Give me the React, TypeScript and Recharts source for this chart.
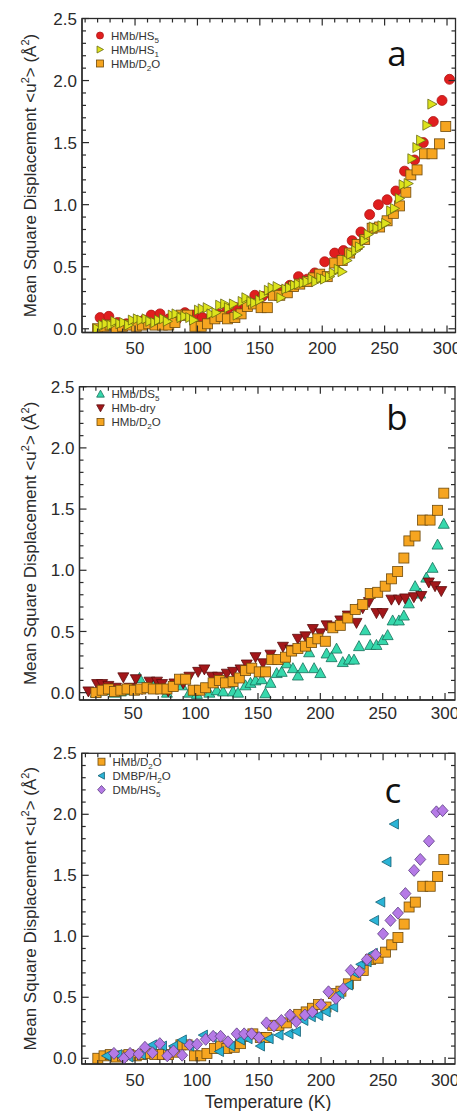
import React from 'react';
import { ScatterChart, Scatter, XAxis, YAxis } from 'recharts';

type Pt = [number, number];

// ---------- data (Temperature K, <u^2> Å^2) ----------
const hmbHS5: Pt[] = [
  [22, 0.09], [29, 0.1], [36, 0.05], [43, 0.04], [50, 0.05], [57, 0.07], [63, 0.11], [70, 0.12], [77, 0.08],
  [83, 0.07], [90, 0.13], [97, 0.11], [104, 0.09], [111, 0.1], [117, 0.12], [124, 0.16], [131, 0.17], [138, 0.19],
  [146, 0.27], [152, 0.26], [159, 0.28], [166, 0.31], [174, 0.35], [181, 0.42], [188, 0.4], [194, 0.45], [202, 0.54],
  [210, 0.61], [217, 0.63], [224, 0.71], [231, 0.78], [238, 0.92], [245, 1.0], [252, 1.04], [259, 1.11], [266, 1.27],
  [274, 1.36], [281, 1.5], [289, 1.67], [296, 1.84], [302, 2.01],
];

const hmbHS1: Pt[] = [
  [20, 0.0], [24, 0.03], [27, 0.04], [31, 0.03], [34, 0.06], [38, 0.04], [41, 0.05], [45, 0.03], [48, 0.07], [52, 0.08],
  [55, 0.07], [59, 0.08], [62, 0.06], [66, 0.05], [69, 0.07], [73, 0.08], [76, 0.06], [80, 0.11], [83, 0.12], [87, 0.09],
  [90, 0.1], [94, 0.09], [97, 0.07], [101, 0.15], [104, 0.16], [108, 0.17], [111, 0.12], [115, 0.13], [118, 0.19],
  [122, 0.2], [125, 0.17], [129, 0.2], [132, 0.11], [136, 0.22], [139, 0.25], [143, 0.22], [146, 0.21], [150, 0.23],
  [153, 0.27], [157, 0.31], [160, 0.33], [164, 0.34], [167, 0.25], [171, 0.32], [174, 0.33], [178, 0.35], [181, 0.36],
  [185, 0.37], [188, 0.38], [192, 0.4], [195, 0.38], [199, 0.41], [202, 0.4], [206, 0.42], [209, 0.45], [213, 0.48],
  [216, 0.46], [220, 0.55], [223, 0.6], [227, 0.63], [230, 0.66], [234, 0.71], [237, 0.76], [241, 0.82], [244, 0.81],
  [248, 0.83], [251, 0.85], [255, 0.95], [258, 0.97], [262, 1.05], [265, 1.16], [269, 1.17], [272, 1.37], [276, 1.46],
  [279, 1.52], [284, 1.64], [288, 1.81],
];

const hmbD2O: Pt[] = [
  [20, 0.0], [25, 0.02], [30, 0.03], [35, 0.01], [40, 0.02], [45, 0.03], [51, 0.02], [56, 0.03], [61, 0.04], [66, 0.03],
  [72, 0.03], [77, 0.03], [82, 0.05], [87, 0.11], [92, 0.11], [98, 0.02], [103, 0.02], [108, 0.04], [114, 0.08],
  [119, 0.1], [124, 0.08], [130, 0.09], [135, 0.12], [140, 0.18], [145, 0.2], [151, 0.17], [156, 0.17], [161, 0.27],
  [166, 0.27], [172, 0.29], [177, 0.34], [182, 0.36], [188, 0.38], [193, 0.41], [198, 0.44], [204, 0.42], [210, 0.53],
  [216, 0.55], [222, 0.61], [228, 0.68], [234, 0.72], [240, 0.81], [246, 0.82], [252, 0.87], [257, 0.93], [262, 0.99],
  [267, 1.1], [271, 1.24], [276, 1.28], [282, 1.41], [288, 1.41], [294, 1.49], [299, 1.63],
];

const hmbDS5: Pt[] = [
  [20, 0.0], [25, 0.02], [30, 0.02], [35, 0.0], [40, 0.01], [46, 0.02], [50, 0.03], [55, 0.12], [60, 0.04], [66, 0.06],
  [70, 0.04], [77, 0.0], [82, 0.06], [89, 0.06], [95, 0.0], [101, -0.01], [106, 0.035], [111, 0.0], [117, 0.02],
  [122, 0.01], [127, 0.08], [130, 0.01], [134, 0.0], [140, 0.06], [144, 0.08], [148, 0.1], [153, 0.11], [156, -0.005],
  [160, 0.08], [165, 0.16], [169, 0.17], [173, 0.24], [178, 0.2], [182, 0.14], [186, 0.2], [191, 0.33], [195, 0.2],
  [200, 0.16], [205, 0.32], [209, 0.29], [213, 0.36], [218, 0.25], [223, 0.27], [227, 0.27], [231, 0.38], [236, 0.51],
  [240, 0.39], [245, 0.39], [250, 0.43], [254, 0.47], [258, 0.59], [263, 0.59], [267, 0.63], [271, 0.73], [276, 0.87],
  [280, 0.81], [285, 0.94], [290, 1.02], [294, 1.21], [299, 1.38],
];

const hmbDry: Pt[] = [
  [14, 0.01], [21, 0.07], [25, 0.07], [30, 0.055], [36, 0.04], [42, 0.125], [47, 0.04], [52, 0.11], [57, 0.03],
  [63, 0.09], [69, 0.09], [73, 0.07], [78, 0.01], [83, 0.075], [90, 0.075], [95, 0.13], [102, 0.17], [107, 0.19],
  [113, 0.13], [118, 0.13], [125, 0.155], [130, 0.17], [136, 0.19], [141, 0.23], [148, 0.29], [154, 0.24], [160, 0.31],
  [170, 0.375], [176, 0.35], [182, 0.44], [188, 0.46], [194, 0.52], [200, 0.485], [205, 0.55], [210, 0.54], [216, 0.59],
  [222, 0.63], [229, 0.57], [234, 0.69], [239, 0.74], [245, 0.65], [250, 0.65], [257, 0.76], [263, 0.76], [268, 0.77],
  [275, 0.78], [281, 0.79], [287, 0.9], [292, 0.87], [297, 0.83],
];

const dmbpH2O: Pt[] = [
  [27, 0.02], [36, 0.03], [45, 0.01], [55, 0.03], [64, 0.11], [72, 0.1], [81, 0.1], [88, 0.15], [94, 0.1], [105, 0.19],
  [112, 0.17], [118, 0.055], [127, 0.1], [135, 0.15], [141, 0.16], [151, 0.1], [158, 0.16], [166, 0.19], [174, 0.2],
  [180, 0.22], [186, 0.31], [192, 0.34], [198, 0.35], [204, 0.38], [210, 0.42], [215, 0.53], [222, 0.6], [227, 0.7],
  [232, 0.77], [237, 0.79], [242, 0.86], [243, 1.13], [248, 1.28], [253, 1.61], [259, 1.92],
];

const dmbHS5: Pt[] = [
  [33, 0.04], [41, 0.0], [46, 0.04], [53, 0.035], [58, 0.09], [64, 0.045], [70, 0.12], [76, 0.02], [81, 0.06], [88, 0.025],
  [94, 0.11], [100, 0.115], [107, 0.155], [113, 0.18], [119, 0.18], [125, 0.135], [132, 0.2], [138, 0.2], [144, 0.2],
  [150, 0.17], [156, 0.29], [162, 0.265], [168, 0.31], [175, 0.355], [180, 0.3], [187, 0.355], [193, 0.38], [200, 0.44],
  [206, 0.545], [212, 0.49], [218, 0.57], [224, 0.72], [231, 0.71], [237, 0.81], [244, 0.85], [250, 1.02], [256, 1.13],
  [262, 1.19], [268, 1.35], [275, 1.54], [280, 1.63], [287, 1.78], [293, 2.02], [298, 2.03],
];

// ---------- ticks ----------
const xTicks = [10, 20, 30, 40, 50, 60, 70, 80, 90, 100, 110, 120, 130, 140, 150, 160, 170, 180, 190, 200, 210, 220,
  230, 240, 250, 260, 270, 280, 290, 300];
const xTickLabels = [50, 100, 150, 200, 250, 300];
const yTicks = [0, 0.1, 0.2, 0.3, 0.4, 0.5, 0.6, 0.7, 0.8, 0.9, 1.0, 1.1, 1.2, 1.3, 1.4, 1.5, 1.6, 1.7, 1.8, 1.9, 2.0,
  2.1, 2.2, 2.3, 2.4, 2.5];
const yTickLabels = [0, 0.5, 1.0, 1.5, 2.0, 2.5];

const yAxisTitle = 'Mean Square Displacement <u';
const xAxisTitle = 'Temperature (K)';

// ---------- styling ----------
const FONT = '"Liberation Sans", Arial, Helvetica, sans-serif';
const AX = '#2a2a2a';
const TXT = '#2a2a2a';

type Kind = 'circle' | 'right' | 'square' | 'up' | 'down' | 'left' | 'diamond';
interface SeriesDef { name: string; data: Pt[]; kind: Kind; fill: string; stroke: string; }

const S_HS5: SeriesDef = { name: 'HMb/HS5', data: hmbHS5, kind: 'circle', fill: '#e01e1e', stroke: '#b01616' };
const S_HS1: SeriesDef = { name: 'HMb/HS1', data: hmbHS1, kind: 'right', fill: '#dde31c', stroke: '#6a6a10' };
const S_D2O: SeriesDef = { name: 'HMb/D2O', data: hmbD2O, kind: 'square', fill: '#f6a520', stroke: '#6e4a0c' };
const S_DS5: SeriesDef = { name: 'HMb/DS5', data: hmbDS5, kind: 'up', fill: '#36d8ac', stroke: '#17705a' };
const S_DRY: SeriesDef = { name: 'HMb-dry', data: hmbDry, kind: 'down', fill: '#a3171a', stroke: '#5a0c0c' };
const S_DMBP: SeriesDef = { name: 'DMBP/H2O', data: dmbpH2O, kind: 'left', fill: '#2bb4d6', stroke: '#135e72' };
const S_DMB: SeriesDef = { name: 'DMb/HS5', data: dmbHS5, kind: 'diamond', fill: '#b57ae6', stroke: '#5b3d80' };

function Marker({ kind, cx, cy, s, fill, stroke }: { kind: Kind; cx: number; cy: number; s: number; fill: string; stroke: string }) {
  const sw = 0.8;
  switch (kind) {
    case 'circle':
      return <circle cx={cx} cy={cy} r={s * 0.5} fill={fill} stroke={stroke} strokeWidth={sw} />;
    case 'square':
      return <rect x={cx - s / 2} y={cy - s / 2} width={s} height={s} fill={fill} stroke={stroke} strokeWidth={sw} />;
    case 'right':
      return <polygon points={`${cx - s * 0.42},${cy - s * 0.5} ${cx + s * 0.5},${cy} ${cx - s * 0.42},${cy + s * 0.5}`} fill={fill} stroke={stroke} strokeWidth={sw} />;
    case 'left':
      return <polygon points={`${cx + s * 0.42},${cy - s * 0.5} ${cx - s * 0.5},${cy} ${cx + s * 0.42},${cy + s * 0.5}`} fill={fill} stroke={stroke} strokeWidth={sw} />;
    case 'up':
      return <polygon points={`${cx - s * 0.55},${cy + s * 0.45} ${cx},${cy - s * 0.55} ${cx + s * 0.55},${cy + s * 0.45}`} fill={fill} stroke={stroke} strokeWidth={sw} />;
    case 'down':
      return <polygon points={`${cx - s * 0.55},${cy - s * 0.45} ${cx},${cy + s * 0.55} ${cx + s * 0.55},${cy - s * 0.45}`} fill={fill} stroke={stroke} strokeWidth={sw} />;
    case 'diamond':
    default:
      return <polygon points={`${cx},${cy - s * 0.6} ${cx + s * 0.55},${cy} ${cx},${cy + s * 0.6} ${cx - s * 0.55},${cy}`} fill={fill} stroke={stroke} strokeWidth={sw} />;
  }
}

interface PanelDef {
  top: number; height: number;
  margin: { top: number; right: number; bottom: number; left: number };
  xDomain: [number, number]; yDomain: [number, number];
  series: SeriesDef[]; legendOrder: SeriesDef[];
  letter: string; letterX: number; letterY: number;
  legendX: number; legendY: number;
  xLabelGap: number;
}

// left/bottom margins exclude the 1px reserved by each axis
const panels: PanelDef[] = [
  {
    top: 0, height: 370, margin: { top: 18.5, right: 1.5, bottom: 36.5, left: 81 },
    xDomain: [7.5, 306.8], yDomain: [-0.03, 2.5],
    series: [S_HS5, S_D2O, S_HS1], legendOrder: [S_HS5, S_HS1, S_D2O],
    letter: 'a', letterX: 397, letterY: 66, legendX: 100, legendY: 35.5, xLabelGap: 15.8,
  },
  {
    top: 370, height: 370, margin: { top: 16.7, right: 2, bottom: 39, left: 78.5 },
    xDomain: [6.85, 308], yDomain: [-0.06, 2.5],
    series: [S_DS5, S_DRY, S_D2O], legendOrder: [S_DS5, S_DRY, S_D2O],
    letter: 'b', letterX: 397, letterY: 430, legendX: 100.5, legendY: 394, xLabelGap: 13.3,
  },
  {
    top: 740, height: 371, margin: { top: 13.3, right: 2, bottom: 46, left: 80.7 },
    xDomain: [7, 308], yDomain: [-0.047, 2.5],
    series: [S_D2O, S_DMBP, S_DMB], legendOrder: [S_D2O, S_DMBP, S_DMB],
    letter: 'c', letterX: 393, letterY: 803, legendX: 101.5, legendY: 761.7, xLabelGap: 16,
  },
];

const plotBox = (p: PanelDef) => ({
  left: p.margin.left + 1,
  right: 457 - p.margin.right,
  top: p.margin.top,
  bottom: p.height - p.margin.bottom - 1,
});

const isMajor = (v: number, list: number[]) => list.some((l) => Math.abs(l - v) < 1e-6);

// bottom axis ticks (with mirrored ticks on the top frame edge)
const bottomTick = (gap: number, plotTop: number) => (props: any) => {
  const { x, y, payload } = props;
  const major = isMajor(payload.value, xTickLabels);
  const len = major ? 7 : 4;
  return (
    <g>
      <line x1={x} x2={x} y1={y} y2={y - len} stroke={AX} strokeWidth={1.2} />
      <line x1={x} x2={x} y1={plotTop} y2={plotTop + len} stroke={AX} strokeWidth={1.2} />
      {major && (
        <text x={x} y={y + gap} dy="0.36em" textAnchor="middle" fontSize={17} fontFamily={FONT} fill={TXT}>
          {payload.value}
        </text>
      )}
    </g>
  );
};
// left axis ticks (with mirrored ticks on the right frame edge)
const leftTick = (plotRight: number) => (props: any) => {
  const { x, y, payload } = props;
  const major = isMajor(payload.value, yTickLabels);
  const len = major ? 7 : 4;
  return (
    <g>
      <line x1={x} x2={x + len} y1={y} y2={y} stroke={AX} strokeWidth={1.2} />
      <line x1={plotRight} x2={plotRight - len} y1={y} y2={y} stroke={AX} strokeWidth={1.2} />
      {major && (
        <text x={x - 5} y={y} dy="0.36em" textAnchor="end" fontSize={17} fontFamily={FONT} fill={TXT}>
          {Number(payload.value).toFixed(1)}
        </text>
      )}
    </g>
  );
};

function SubText({ text, x, y, size }: { text: string; x: number; y: number; size: number }) {
  const parts = text.split(/(\d)/).filter((p) => p.length > 0);
  let shifted = false;
  return (
    <text x={x} y={y} dy="0.36em" fontSize={size} fontFamily={FONT} fill="#333">
      {parts.map((p, i) => {
        if (/\d/.test(p)) {
          shifted = true;
          return <tspan key={i} fontSize={size * 0.7} dy={3}>{p}</tspan>;
        }
        if (shifted) {
          shifted = false;
          return <tspan key={i} dy={-3}>{p}</tspan>;
        }
        return <tspan key={i}>{p}</tspan>;
      })}
    </text>
  );
}

function Panel({ p }: { p: PanelDef }) {
  const box = plotBox(p);
  return (
    <div style={{ position: 'absolute', left: 0, top: p.top, width: 457, height: p.height }}>
      <ScatterChart width={457} height={p.height} margin={p.margin}>
        <XAxis xAxisId="b" orientation="bottom" type="number" dataKey="t" domain={p.xDomain} allowDataOverflow ticks={xTicks} interval={0}
          height={1} tickSize={0} tickMargin={0} tickLine={false} axisLine={{ stroke: AX, strokeWidth: 1.3 }} tick={bottomTick(p.xLabelGap, box.top)} />
        <YAxis yAxisId="l" orientation="left" type="number" dataKey="v" domain={p.yDomain} allowDataOverflow ticks={yTicks} interval={0}
          width={1} tickSize={0} tickMargin={0} tickLine={false} axisLine={{ stroke: AX, strokeWidth: 1.3 }} tick={leftTick(box.right)} />
        {p.series.map((s) => (
          <Scatter
            key={s.name}
            name={s.name}
            xAxisId="b"
            yAxisId="l"
            data={s.data.map(([t, v]) => ({ t, v }))}
            isAnimationActive={false}
            shape={(props: any) => <Marker kind={s.kind} cx={props.cx} cy={props.cy} s={10} fill={s.fill} stroke={s.stroke} />}
          />
        ))}
      </ScatterChart>
    </div>
  );
}

export default function App() {
  return (
    <div style={{ position: 'absolute', left: 0, top: 0, width: 457, height: 1111, background: '#fff' }}>
      {panels.map((p) => <Panel key={p.letter} p={p} />)}
      <svg width={457} height={1111} style={{ position: 'absolute', left: 0, top: 0, pointerEvents: 'none' }}>
        {panels.map((p) => {
          const box = plotBox(p);
          const cy = p.top + (box.top + box.bottom) / 2;
          return (
            <g key={p.letter}>
              <rect x={box.left} y={p.top + box.top} width={box.right - box.left} height={box.bottom - box.top}
                fill="none" stroke={AX} strokeWidth={1.3} />
              <text transform={`translate(30, ${cy}) rotate(-90)`} textAnchor="middle" dy="0.36em" fontSize={17} fontFamily={FONT} fill={TXT}>
                {yAxisTitle}
                <tspan fontSize={11} dy={-7}>2</tspan>
                <tspan dy={7}>{'> (Å'}</tspan>
                <tspan fontSize={11} dy={-7}>2</tspan>
                <tspan dy={7}>)</tspan>
              </text>
              <text x={p.letterX} y={p.letterY} textAnchor="middle" fontSize={35} fontFamily='"Open Sans", sans-serif' fill="#111">
                {p.letter}
              </text>
              {p.legendOrder.map((s, i) => (
                <g key={s.name}>
                  <Marker kind={s.kind} cx={p.legendX} cy={p.legendY + i * 14} s={7} fill={s.fill} stroke={s.stroke} />
                  <SubText text={s.name} x={p.legendX + 11} y={p.legendY + i * 14} size={11.5} />
                </g>
              ))}
            </g>
          );
        })}
        <text x={268} y={1101.5} dy="0.36em" textAnchor="middle" fontSize={17.5} fontFamily={FONT} fill={TXT}>
          {xAxisTitle}
        </text>
      </svg>
    </div>
  );
}
